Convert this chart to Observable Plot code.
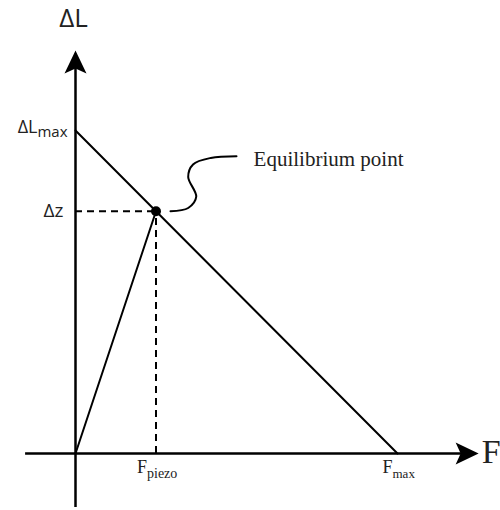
<!DOCTYPE html>
<html>
<head>
<meta charset="utf-8">
<script src="https://cdn.jsdelivr.net/npm/d3@7"></script>
<script src="https://cdn.jsdelivr.net/npm/@observablehq/plot@0.6"></script>
<style>
  html, body { margin: 0; padding: 0; background: #fff; }
  #chart svg { display: block; }
</style>
</head>
<body>
<div id="chart"></div>
<script>
// ---- data (normalised units: F_max = 1, ΔL_max = 1) ----
const fMax = 1;
const dLmax = 1;
const fPiezo = 0.25;
const dz = 0.75;
// axis extents
const xAxisExtent = [-0.155, 1.23];
const yAxisExtent = [-0.167, 1.21];
const xArrowTip = 1.252;
const yArrowTip = 1.248;
// leader curve from equilibrium point to its label
const leaderX = [0.295, 0.35, 0.375, 0.35, 0.365, 0.42, 0.50];
const leaderY = [0.75, 0.76, 0.795, 0.856, 0.895, 0.915, 0.92];
const labelPos = {x: 0.553, y: 0.91};

const sans = "'Open Sans', 'DejaVu Sans', sans-serif";
const serif = "'Liberation Serif', 'DejaVu Serif', serif";

// custom arrowhead symbol: tip at origin, pointing up
const arrowHead = {
  draw(ctx) {
    ctx.moveTo(0, 0);
    ctx.lineTo(11, 23);
    ctx.lineTo(0, 18);
    ctx.lineTo(-11, 23);
    ctx.closePath();
  }
};

const loadLine = [{x: 0, y: dLmax}, {x: fMax, y: 0}];
const piezoLine = [{x: 0, y: 0}, {x: fPiezo, y: dz}];
const leader = leaderX.map((x, i) => ({x, y: leaderY[i]}));

const chart = Plot.plot({
  width: 500,
  height: 510,
  marginLeft: 75,
  marginRight: 103,
  marginTop: 130,
  marginBottom: 57,
  x: {domain: [0, fMax], axis: null},
  y: {domain: [0, dLmax], axis: null},
  marks: [
    // axes
    Plot.ruleY([0], {x1: xAxisExtent[0], x2: xAxisExtent[1], stroke: "#000", strokeWidth: 2.5}),
    Plot.ruleX([0], {y1: yAxisExtent[0], y2: yAxisExtent[1], stroke: "#000", strokeWidth: 2.5}),
    Plot.dot([{x: xArrowTip, y: 0}], {x: "x", y: "y", symbol: arrowHead, fill: "#000", stroke: null, rotate: 90}),
    Plot.dot([{x: 0, y: yArrowTip}], {x: "x", y: "y", symbol: arrowHead, fill: "#000", stroke: null}),
    // dashed guides
    Plot.ruleY([dz], {x1: 0, x2: fPiezo, stroke: "#000", strokeWidth: 2, strokeDasharray: "7,5"}),
    Plot.ruleX([fPiezo], {y1: 0, y2: dz, stroke: "#000", strokeWidth: 2, strokeDasharray: "7,5"}),
    // lines
    Plot.line(loadLine, {x: "x", y: "y", stroke: "#000", strokeWidth: 2}),
    Plot.line(piezoLine, {x: "x", y: "y", stroke: "#000", strokeWidth: 2}),
    Plot.line(leader, {x: "x", y: "y", stroke: "#000", strokeWidth: 2, curve: "catmull-rom"}),
    Plot.dot([{x: fPiezo, y: dz}], {x: "x", y: "y", r: 5, fill: "#000", stroke: null}),
    // labels
    Plot.text([labelPos], {x: "x", y: "y", text: () => "Equilibrium point", textAnchor: "start", fontFamily: serif, fontSize: 21, fill: "#222"}),
    Plot.text([{x: 0, y: yArrowTip}], {x: "x", y: "y", text: () => "ΔL", dx: -2, dy: -32, fontFamily: sans, fontSize: 26, fill: "#222"}),
    Plot.text([{x: xArrowTip, y: 0}], {x: "x", y: "y", text: () => "F", textAnchor: "start", dx: 3, dy: -1, fontFamily: serif, fontSize: 34, fill: "#222"}),
    Plot.text([{x: 0, y: dLmax}], {x: "x", y: "y", text: () => "ΔL", textAnchor: "end", dx: -38, dy: -3, fontFamily: sans, fontSize: 18, fill: "#222"}),
    Plot.text([{x: 0, y: dLmax}], {x: "x", y: "y", text: () => "max", textAnchor: "end", dx: -8, dy: 2, fontFamily: sans, fontSize: 15, fill: "#222"}),
    Plot.text([{x: 0, y: dz}], {x: "x", y: "y", text: () => "Δz", textAnchor: "end", dx: -12, fontFamily: sans, fontSize: 19, fill: "#222"}),
    Plot.text([{x: fPiezo, y: 0}], {x: "x", y: "y", text: () => "F", textAnchor: "end", dx: -9, dy: 14, fontFamily: serif, fontSize: 18, fill: "#222"}),
    Plot.text([{x: fPiezo, y: 0}], {x: "x", y: "y", text: () => "piezo", textAnchor: "start", dx: -9, dy: 20, fontFamily: serif, fontSize: 14, fill: "#222"}),
    Plot.text([{x: fMax, y: 0}], {x: "x", y: "y", text: () => "F", textAnchor: "end", dx: -5, dy: 14, fontFamily: serif, fontSize: 18, fill: "#222"}),
    Plot.text([{x: fMax, y: 0}], {x: "x", y: "y", text: () => "max", textAnchor: "start", dx: -5, dy: 20, fontFamily: serif, fontSize: 13, fill: "#222"})
  ]
});
document.getElementById("chart").appendChild(chart);
</script>
</body>
</html>
